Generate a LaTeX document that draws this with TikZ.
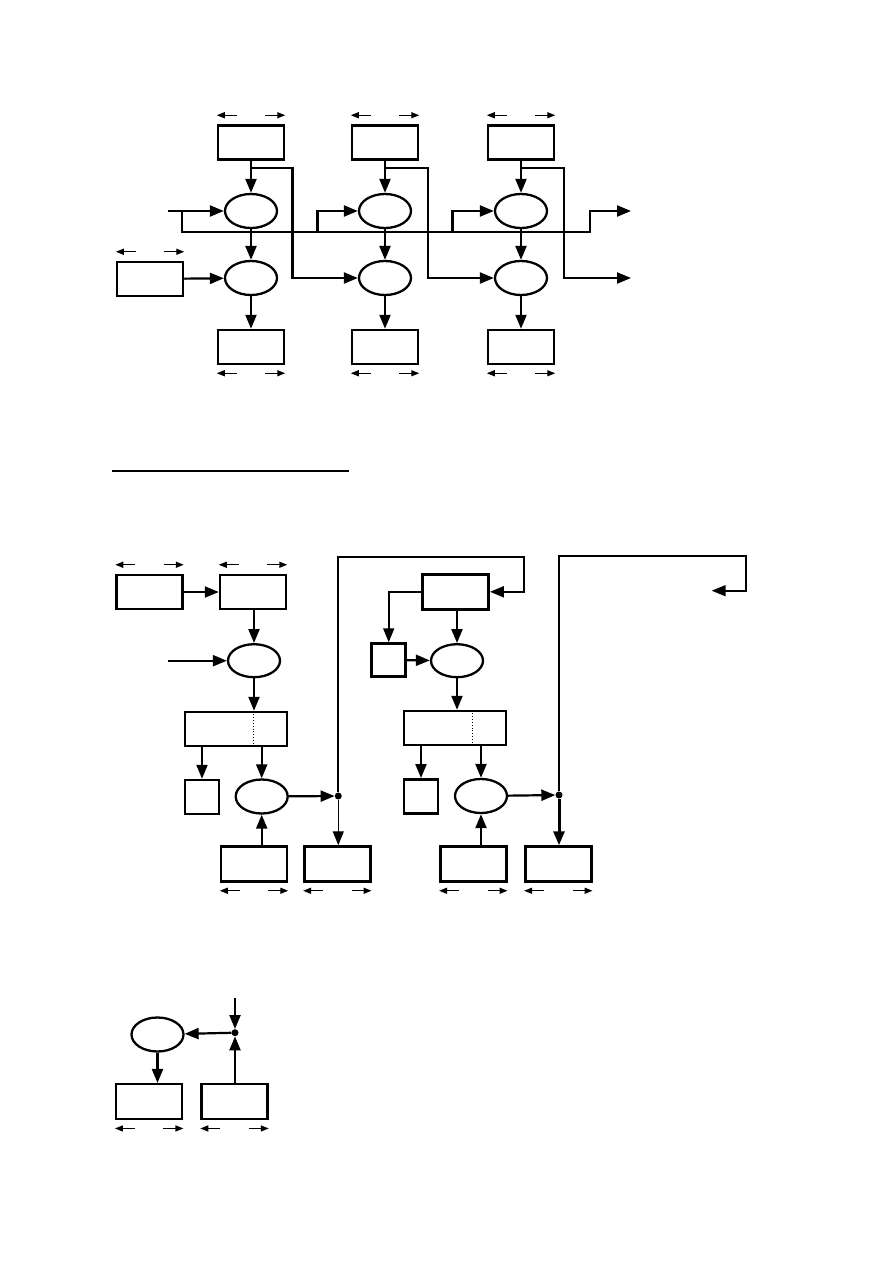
\documentclass[tikz,border=0pt]{standalone}
\usetikzlibrary{arrows.meta,shapes.geometric}
\begin{document}
\begin{tikzpicture}[x=1pt,y=-1pt,
  bx/.style={draw,line width=2.5pt,minimum width=66pt,minimum height=34pt,inner sep=0pt},
  sq/.style={draw,line width=2.5pt,minimum width=34pt,minimum height=34pt,inner sep=0pt},
  wide/.style={draw,line width=2.5pt,minimum width=102pt,minimum height=34pt,inner sep=0pt},
  el/.style={draw,ellipse,line width=2.3pt,minimum width=52pt,minimum height=34pt,inner sep=0pt},
  arr/.style={line width=2.2pt,-{Triangle[length=14pt,width=11pt]}},
  sm/.style={line width=1.4pt,-{Triangle[length=8pt,width=6pt]}},
  dot/.style={circle,fill,inner sep=0pt,minimum size=7pt}]
\useasboundingbox (0,0) rectangle (893,1263);
\newcommand\uparrs[1]{%
  \draw[sm] ([xshift=20pt,yshift=9pt]#1.north west) -- ([yshift=9pt]#1.north west);
  \draw[sm] ([xshift=-20pt,yshift=9pt]#1.north east) -- ([yshift=9pt]#1.north east);}
\newcommand\dnarrs[1]{%
  \draw[sm] ([xshift=20pt,yshift=-8pt]#1.south west) -- ([yshift=-8pt]#1.south west);
  \draw[sm] ([xshift=-20pt,yshift=-8pt]#1.south east) -- ([yshift=-8pt]#1.south east);}

% ---------------- top section ----------------
\node[bx] (t1) at (251,142.5) {};
\node[bx] (t2) at (385,142.5) {};
\node[bx] (t3) at (521,142.5) {};
\node[el] (e11) at (251,211) {};
\node[el] (e12) at (385,211) {};
\node[el] (e13) at (521,211) {};
\node[el] (e21) at (251,278) {};
\node[el] (e22) at (385,278) {};
\node[el] (e23) at (521,278) {};
\node[bx] (b1) at (251,347) {};
\node[bx] (b2) at (385,347) {};
\node[bx] (b3) at (521,347) {};
\node[bx] (lb) at (150,279) {};
\uparrs{t1}\uparrs{t2}\uparrs{t3}\uparrs{lb}
\dnarrs{b1}\dnarrs{b2}\dnarrs{b3}
\coordinate (in1) at (168,211);
\coordinate (out1) at (631,211);
\coordinate (out2) at (631,278);
\draw[arr] (t1) -- (e11);
\draw[arr] (t2) -- (e12);
\draw[arr] (t3) -- (e13);
\draw[arr] (e11) -- (e21);
\draw[arr] (e12) -- (e22);
\draw[arr] (e13) -- (e23);
\draw[arr] (e21) -- (b1);
\draw[arr] (e22) -- (b2);
\draw[arr] (e23) -- (b3);
\draw[arr] (lb) -- (e21);
\draw[arr] (in1) -- (e11);
\draw[arr] (182,211) -- (182,232) -- (590,232) -- (590,211) -- (out1);
\draw[arr] (317.5,232) |- (e12.west);
\draw[arr] (452.5,232) |- (e13.west);
\draw[arr] (251,168) -| (292.5,278) -- (e22.west);
\draw[arr] (385,168) -| (428,278) -- (e23.west);
\draw[arr] (521,168) -| (564,278) -- (out2);

% separator
\draw[line width=1.2pt] (112,471) -- (349,471);

% ---------------- middle section ----------------
\node[bx] (A) at (149.5,592) {};
\node[bx] (B) at (253,592) {};
\node[el,minimum height=33pt] (m1) at (254,660.7) {};
\node[wide] (C) at (236,729) {};
\draw[dotted,line width=0.9pt] (253.3,714) -- (253.3,744);
\node[sq] (sc) at (202,797) {};
\node[el] (m2) at (261.7,796.5) {};
\node[dot] (j1) at (338.3,796) {};
\node[bx,minimum height=35pt] (D) at (337.3,864) {};
\node[bx,minimum height=35pt] (E) at (254,864) {};
\uparrs{A}\uparrs{B}\dnarrs{D}\dnarrs{E}
\coordinate (in2) at (168,660.7);
\draw[arr] (A) -- (B);
\draw[arr] (B.south -| m1) -- (m1);
\draw[arr] (in2) -- (m1);
\draw[arr] (m1) -- (m1 |- C.north);
\draw[arr] (sc.north |- C.south) -- (sc.north);
\draw[arr] (m2.north |- C.south) -- (m2.north);
\draw[arr] (m2) -- (j1);
\draw[arr] (m2.south |- E.north) -- (m2.south);
\draw[line width=1.4pt,-{Triangle[length=14pt,width=11pt]}] (j1) -- (j1 |- D.north);

\node[bx,minimum height=35pt] (F) at (455.7,591.8) {};
\node[sq,minimum height=33pt] (G) at (388.7,660) {};
\node[el,minimum height=33pt] (m3) at (457,660.7) {};
\node[wide] (H) at (455,728) {};
\draw[dotted,line width=0.9pt] (472.3,713) -- (472.3,743);
\node[sq] (sh) at (421,796.3) {};
\node[el] (m4) at (481,796) {};
\node[dot] (j2) at (559,795) {};
\node[bx,minimum height=35pt] (J) at (558.3,864) {};
\node[bx,minimum height=35pt] (K) at (473.3,864) {};
\dnarrs{J}\dnarrs{K}
\coordinate (free) at (711.7,590.7);
\draw[line width=2pt,-{Triangle[length=14pt,width=11pt]}] (j1) -- (338.3,557.3) -- (524.3,557.3) |- (F.east);
\draw[line width=1.7pt,-{Triangle[length=14pt,width=11pt]}] (F.west) -| (G.north);
\draw[arr] (F.south -| m3) -- (m3);
\draw[arr] (G) -- (m3);
\draw[arr] (m3) -- (m3 |- H.north);
\draw[arr] (sh.north |- H.south) -- (sh.north);
\draw[arr] (m4.north |- H.south) -- (m4.north);
\draw[arr] (m4) -- (j2);
\draw[arr] (m4.south |- K.north) -- (m4.south);
\draw[line width=3pt,-{Triangle[length=14pt,width=11pt]}] (j2) -- (j2 |- J.north);
\draw[line width=1.6pt,-{Triangle[length=14pt,width=11pt]}] (j2) -- (559,556) -- (746,556) |- (free);

% ---------------- bottom section ----------------
\node[el] (eb) at (157.5,1034.5) {};
\node[dot] (j3) at (235,1032.7) {};
\node[bx,minimum height=35pt] (L) at (149.2,1101.7) {};
\node[bx,minimum height=35pt] (M) at (234.5,1101.7) {};
\dnarrs{L}\dnarrs{M}
\coordinate (top3) at (235,998);
\draw[arr] (top3) -- (j3);
\draw[arr] (M.north -| j3) -- (j3);
\draw[arr] (j3) -- (eb);
\draw[arr] (eb.south) -- (eb.south |- L.north);
\end{tikzpicture}
\end{document}
